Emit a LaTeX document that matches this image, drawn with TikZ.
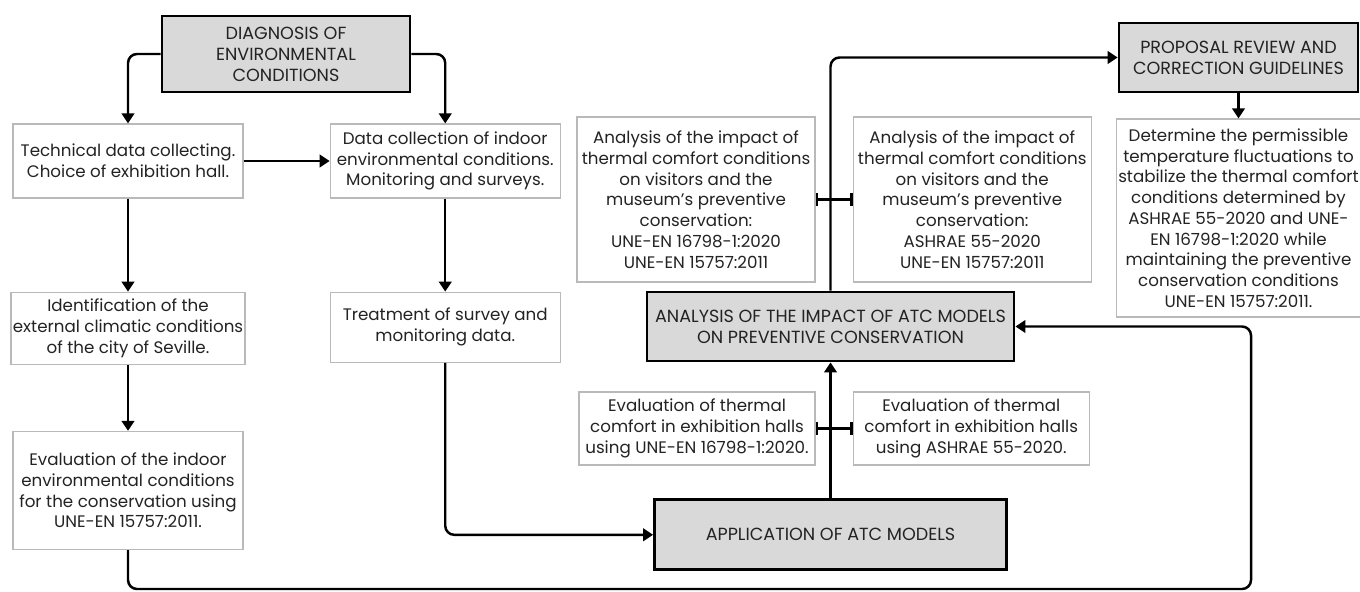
\documentclass[tikz,border=0pt]{standalone}
\usepackage{fontspec}
\setmainfont{Poppins}
\usepackage{xcolor}
\usepackage{tikz}
\usetikzlibrary{arrows.meta, positioning, calc}
\definecolor{stagecolor}{RGB}{217, 217, 217}
\definecolor{boxline}{RGB}{185, 185, 185}
\definecolor{inkgray}{RGB}{35, 35, 35}

\begin{document}
\begin{tikzpicture}[
    node distance=1.3cm and 2cm,
    stage/.style={draw=black, line width=1.6pt, fill=stagecolor, text=inkgray, align=center, inner sep=2pt, font=\fontsize{10}{12}\selectfont},
    task/.style={draw=boxline, line width=0.7pt, fill=white, text=inkgray, align=center, inner sep=1pt, font=\fontsize{9.5}{11.8}\selectfont},
    arrow/.style={-{Triangle[length=2mm, width=2.5mm]}, line width=1.4pt, rounded corners=0.18cm},
    link/.style={{Bar[width=2.6mm]}-{Bar[width=2.6mm]}, line width=1.4pt}
]
    \useasboundingbox (0,0) rectangle (27.2,-11.84);

    % Diagnosis branch
    \node[stage, minimum width=4.96cm, minimum height=1.52cm] (diag) at (5.72,-1.08) {DIAGNOSIS OF\\ENVIRONMENTAL\\CONDITIONS};
    \node[task, minimum width=4.6cm, minimum height=1.48cm] (tech) at (2.56,-3.22) {Technical data collecting.\\Choice of exhibition hall.};
    \node[task, minimum width=4.6cm, minimum height=1.44cm, below=1.86cm of tech] (ident) {Identification of the\\external climatic conditions\\of the city of Seville.};
    \node[task, minimum width=4.6cm, minimum height=2.36cm, below=1.32cm of ident] (evalcons) {Evaluation of the indoor\\environmental conditions\\for the conservation using\\UNE-EN 15757:2011.};
    \node[task, minimum width=4.6cm, minimum height=1.48cm, right=1.72cm of tech] (data) {Data collection of indoor\\environmental conditions.\\Monitoring and surveys.};
    \node[task, minimum width=4.6cm, minimum height=1.4cm, below=1.86cm of data] (treat) {Treatment of survey and\\monitoring data.};

    % ATC models
    \node[stage, minimum width=7.34cm, minimum height=1.38cm] (atc) at (16.61,-6.53) {ANALYSIS OF THE IMPACT OF ATC MODELS\\ON PREVENTIVE CONSERVATION};
    \node[stage, minimum width=7.04cm, minimum height=1.4cm, below=2.72cm of atc] (app) {APPLICATION OF ATC MODELS};
    \node[task, minimum width=4.72cm, minimum height=1.46cm] (evalune) at (13.94,-8.57) {Evaluation of thermal\\comfort in exhibition halls\\using UNE-EN 16798-1:2020.};
    \node[task, minimum width=4.72cm, minimum height=1.46cm, right=0.74cm of evalune] (evalash) {Evaluation of thermal\\comfort in exhibition halls\\using ASHRAE 55-2020.};
    \node[task, minimum width=4.76cm, minimum height=3.3cm] (impune) at (13.92,-3.99) {Analysis of the impact of\\thermal comfort conditions\\on visitors and the\\museum's preventive\\conservation:\\UNE-EN 16798-1:2020\\UNE-EN 15757:2011};
    \node[task, minimum width=4.76cm, minimum height=3.3cm, right=0.74cm of impune] (impash) {Analysis of the impact of\\thermal comfort conditions\\on visitors and the\\museum's preventive\\conservation:\\ASHRAE 55-2020\\UNE-EN 15757:2011};

    % Proposal
    \node[stage, minimum width=4.78cm, minimum height=1.38cm] (prop) at (24.77,-1.15) {PROPOSAL REVIEW AND\\CORRECTION GUIDELINES};
    \node[task, minimum width=4.76cm, minimum height=3.96cm, below=0.5cm of prop] (det) {Determine the permissible\\temperature fluctuations to\\stabilize the thermal comfort\\conditions determined by\\ASHRAE 55-2020 and UNE-\\EN 16798-1:2020 while\\maintaining the preventive\\conservation conditions\\UNE-EN 15757:2011.};

    \coordinate (loop) at (25.02,-11.78);

    % Connectors
    \draw[arrow] (diag.west) -| (tech.north);
    \draw[arrow] (diag.east) -| (data.north);
    \draw[arrow] (tech) -- (data);
    \draw[arrow] (tech) -- (ident);
    \draw[arrow] (ident) -- (evalcons);
    \draw[arrow] (data) -- (treat);
    \draw[arrow] (treat.south) |- (app.west);
    \draw[arrow] (app.north) -- (app.north |- atc.south);
    \draw[arrow] (atc.north) |- (prop.west);
    \draw[arrow] (prop.south) -- (prop.south |- det.north);
    \draw[arrow] (evalcons.south) |- (loop) |- (atc.east);
    \draw[link] (impune) -- (impash);
    \draw[link] (evalune) -- (evalash);
\end{tikzpicture}
\end{document}
